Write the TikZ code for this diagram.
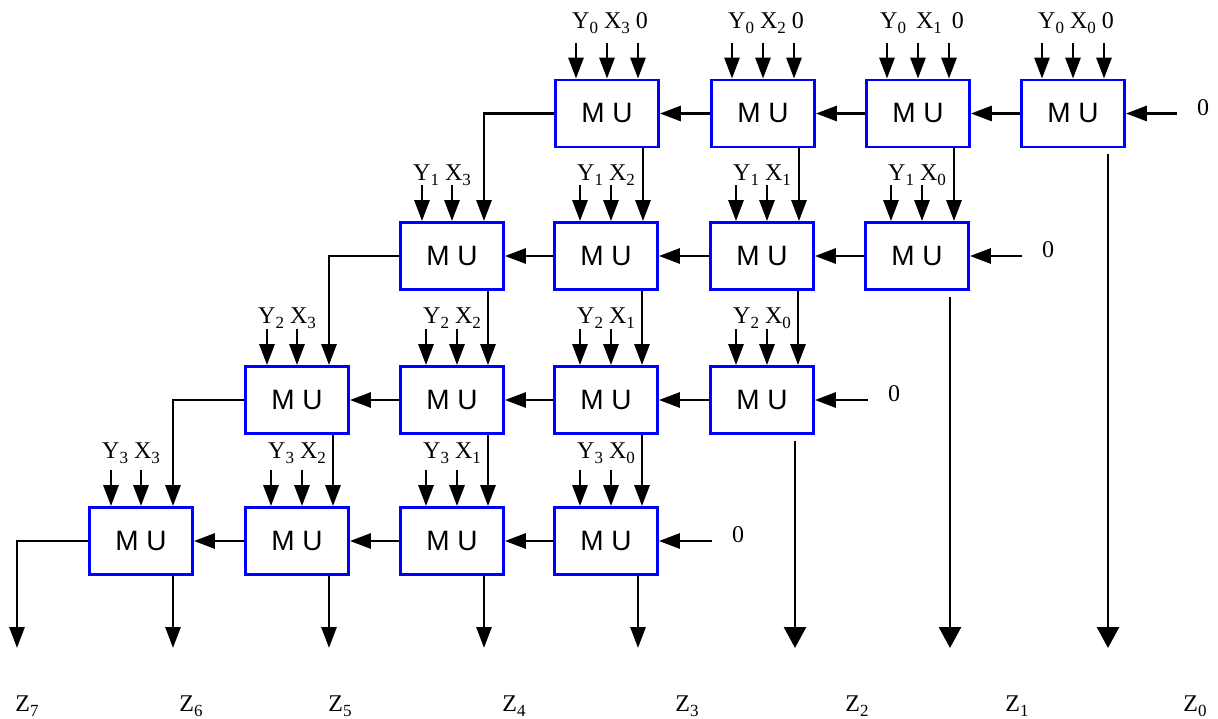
\documentclass[tikz,border=0pt]{standalone}
\usepackage{fontspec}
\setmainfont{Liberation Serif}
\newfontfamily\arialf{Liberation Sans}
\usetikzlibrary{arrows.meta}
\newcommand\sbs[1]{\raisebox{-0.22em}{\fontsize{17}{17}\selectfont #1}}
\begin{document}
\begin{tikzpicture}[x=1pt,y=-1pt,
  mu/.style={draw=blue, line width=2.8pt, minimum width=103pt, minimum height=67pt, inner sep=0pt, font=\arialf\fontsize{28}{28}\selectfont},
  arr/.style={line width=2.9pt, -{Triangle[length=21pt,width=15pt]}},
  bigarr/.style={line width=2.9pt, -{Triangle[length=21pt,width=22pt]}},
  lab/.style={font=\fontsize{24}{24}\selectfont, inner sep=0pt},
]
\fill[white] (0,0) rectangle (1218,719);
\useasboundingbox (0,0) rectangle (1218,719);

% ---------------- boxes ----------------
\node[mu] (r0d) at (607,113.5) {M U};
\node[mu] (r0e) at (763,113.5) {M U};
\node[mu] (r0f) at (918,113.5) {M U};
\node[mu] (r0g) at (1073,113.5) {M U};

\node[mu] (r1c) at (452,256) {M U};
\node[mu] (r1d) at (606,256) {M U};
\node[mu] (r1e) at (762,256) {M U};
\node[mu] (r1f) at (917,256) {M U};

\node[mu] (r2b) at (297,400) {M U};
\node[mu] (r2c) at (452,400) {M U};
\node[mu] (r2d) at (606,400) {M U};
\node[mu] (r2e) at (762,400) {M U};

\node[mu] (r3a) at (141,541) {M U};
\node[mu] (r3b) at (297,541) {M U};
\node[mu] (r3c) at (452,541) {M U};
\node[mu] (r3d) at (606,541) {M U};

% ---------------- row 0 inputs ----------------
\foreach \b/\j in {r0d/3,r0e/2,r0g/0}{
  \node[lab] at ([xshift=3pt]\b.north |- 0,23) {Y\sbs{0} X\sbs{\j} 0};
}
\node[lab] (l0f) at ([xshift=4pt]r0f.north |- 0,23) {Y\sbs{0}\hspace{4pt} X\sbs{1}\hspace{4pt} 0};
\foreach \b in {r0d,r0e,r0f,r0g}{
  \foreach \dx in {-31,0,31}{
    \draw[arr] ([xshift=\dx pt,yshift=36pt]\b.north) -- ([xshift=\dx pt]\b.north);
  }
}

% ---------------- row 1..3 labels and side inputs ----------------
% diagonal boxes
\foreach \b/\yy/\i/\j in {r1c/175/1/3, r2b/318/2/3, r3a/453/3/3}{
  \node[lab] at ([xshift=-10pt]\b.north |- 0,\yy) {Y\sbs{\i} X\sbs{\j}};
  \foreach \dx in {-30,0}{
    \draw[arr] ([xshift=\dx pt,yshift=36pt]\b.north) -- ([xshift=\dx pt]\b.north);
  }
}
% other boxes
\foreach \b/\yy/\i/\j in {r1d/175/1/2, r1e/175/1/1, r1f/175/1/0,
                          r2c/318/2/2, r2d/318/2/1, r2e/318/2/0,
                          r3b/453/3/2, r3c/453/3/1, r3d/453/3/0}{
  \node[lab] at (\b.north |- 0,\yy) {Y\sbs{\i} X\sbs{\j}};
  \foreach \dx in {-26,5}{
    \draw[arr] ([xshift=\dx pt,yshift=36pt]\b.north) -- ([xshift=\dx pt]\b.north);
  }
}

% ---------------- vertical links ----------------
\foreach \a/\c in {r0d/r1d, r0e/r1e, r0f/r1f, r1c/r2c, r1d/r2d, r1e/r2e, r2b/r3b, r2c/r3c, r2d/r3d}{
  \draw[arr] ([xshift=36pt]\a.south) -- ([xshift=36pt]\a.south |- \c.north);
}

% ---------------- diagonal links ----------------
\draw[arr] (r0d.west) -| ([xshift=32pt]r1c.north);
\draw[arr] (r1c.west) -| ([xshift=32pt]r2b.north);
\draw[arr] (r2b.west) -| ([xshift=32pt]r3a.north);

% ---------------- horizontal links ----------------
\foreach \a/\c in {r0g/r0f, r0f/r0e, r0e/r0d,
                   r1f/r1e, r1e/r1d, r1d/r1c,
                   r2e/r2d, r2d/r2c, r2c/r2b,
                   r3d/r3c, r3c/r3b, r3b/r3a}{
  \draw[arr] (\a.west) -- (\c.east);
}

% ---------------- right-hand zero inputs ----------------
\foreach \b/\x/\n in {r0g/1177/i0, r1f/1022/i1, r2e/868/i2, r3d/712/i3}{
  \coordinate (\n) at (\x,0 |- \b.east);
  \node[lab] at ([xshift=26pt,yshift=6pt]\n) {0};
  \draw[arr] (\n) -- (\b.east);
}

% ---------------- outputs ----------------
\coordinate (z7) at (17,648);
\draw[arr] (r3a.west) -| (z7);
\foreach \b/\n in {r3a/z6, r3b/z5, r3c/z4, r3d/z3}{
  \coordinate (\n) at ([xshift=32pt]\b.south |- 0,648);
  \draw[arr] ([xshift=32pt]\b.south) -- (\n);
}
\foreach \b/\n/\dx in {r2e/z2/33, r1f/z1/33, r0g/z0/35}{
  \coordinate (\n) at ([xshift=\dx pt]\b.south |- 0,648);
  \draw[bigarr] ([xshift=\dx pt,yshift=-6pt]\b.south) -- (\n);
}

% ---------------- Z labels ----------------
\foreach \x/\k in {27/7, 191/6, 340/5, 514/4, 687/3, 857/2, 1017/1, 1195/0}{
  \node[lab] at (\x,706) {Z\sbs{\k}};
}
\end{tikzpicture}
\end{document}
